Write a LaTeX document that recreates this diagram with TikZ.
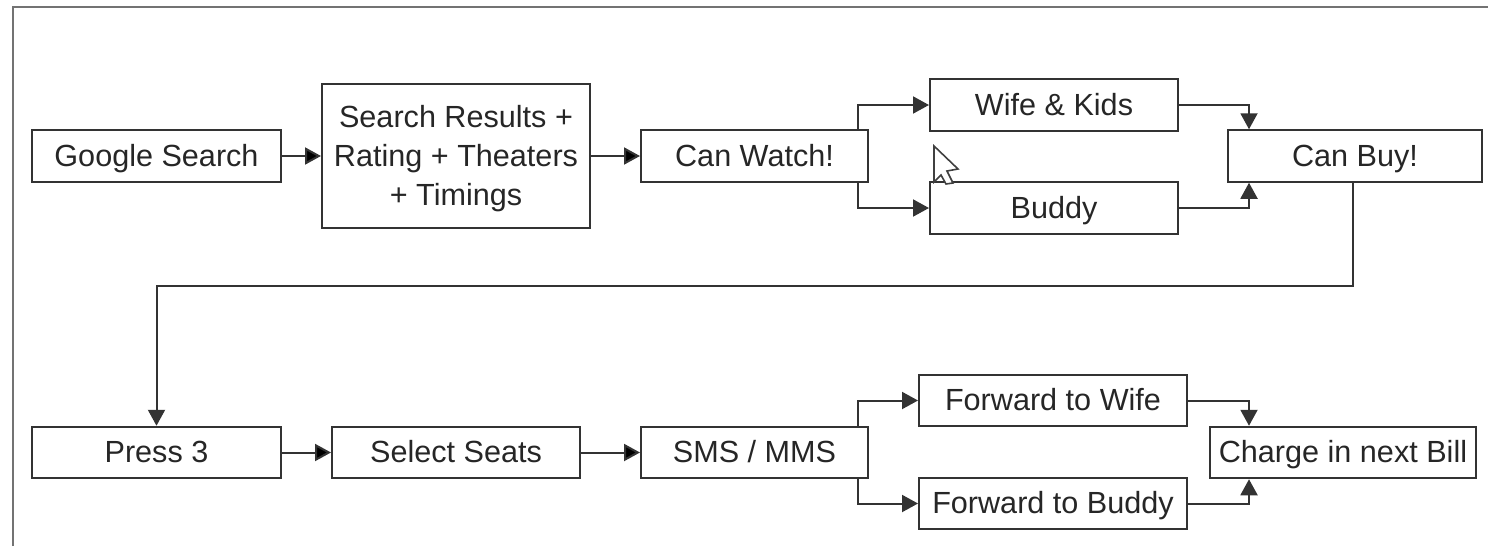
\documentclass[tikz,border=0pt]{standalone}
\usepackage{fontspec}
\setmainfont{Liberation Sans}
\usetikzlibrary{arrows.meta}

\begin{document}
\begin{tikzpicture}[>={Triangle[length=8pt,width=8.5pt]}, line width=1pt]
    \tikzstyle{box}=[draw=black!80, rectangle, inner sep=0pt, align=center,
        text=black!85, font=\fontsize{15.3}{19.5}\selectfont, minimum height=25.75pt,
        text height=13pt, text depth=3pt]
    \tikzstyle{link}=[draw=black!80, ->]

    \useasboundingbox (0,0) rectangle (744pt,-273pt);

    \coordinate (framebottom) at (6.5pt,-273pt);
    \coordinate (framecorner) at (6.5pt,-3.5pt);
    \coordinate (frameright) at (744pt,-3.5pt);
    \draw[black!55, line width=1.2pt] (framebottom) -- (framecorner) -- (frameright);

    \node[box, minimum width=124.5pt] (google) at (78.25pt,-78pt) {Google Search};
    \node[box, minimum width=134pt, minimum height=72pt, text height=, text depth=] (search)
        [right of=google, node distance=149.75pt] {\rule{0pt}{14pt}Search Results +\\Rating + Theaters\\+ Timings};
    \node[box, minimum width=113.5pt] (watch) [right of=search, node distance=149.25pt] {Can Watch!};
    \node[box, minimum width=124pt] (wife) [right of=watch, node distance=149.75pt, yshift=25.5pt] {Wife \& Kids};
    \node[box, minimum width=124pt] (buddy) [right of=watch, node distance=149.75pt, yshift=-26pt] {Buddy};
    \node[box, minimum width=127pt] (buy) [right of=watch, node distance=300.25pt] {Can Buy!};

    \node[box, minimum width=124.5pt] (press) [below of=google, node distance=148.25pt] {Press 3};
    \node[box, minimum width=124pt] (seats) [right of=press, node distance=149.75pt] {Select Seats};
    \node[box, minimum width=113.5pt] (sms) [right of=seats, node distance=149.25pt] {SMS / MMS};
    \node[box, minimum width=134pt] (fwife) [right of=sms, node distance=149.25pt, yshift=26pt] {Forward to Wife};
    \node[box, minimum width=134pt] (fbuddy) [right of=sms, node distance=149.25pt, yshift=-25.5pt] {Forward to Buddy};
    \node[box, minimum width=133pt] (charge) [right of=sms, node distance=294.25pt] {Charge in next Bill};

    \path[link] (google) edge (search)
          (search) edge (watch)
          (press) edge (seats)
          (seats) edge (sms);

    \draw[link] ([xshift=-5.5pt]watch.north east) |- (wife);
    \draw[link] ([xshift=-5.5pt]watch.south east) |- (buddy);
    \draw[link] (wife) -| ([xshift=11pt]buy.north west);
    \draw[link] (buddy) -| ([xshift=11pt]buy.south west);
    \draw[link] ([xshift=-1pt]buy.south) -- ++(0,-51.5pt) -| (press.north);
    \draw[link] ([xshift=-5.5pt]sms.north east) |- (fwife);
    \draw[link] ([xshift=-5.5pt]sms.south east) |- (fbuddy);
    \draw[link] (fwife) -| ([xshift=20pt]charge.north west);
    \draw[link] (fbuddy) -| ([xshift=20pt]charge.south west);

    % pointer left in the screenshot
    \filldraw[fill=white, draw=black!75, line width=0.8pt] (467pt,-73pt) -- (479pt,-84.5pt) -- (473.5pt,-85.5pt)
        -- (476.5pt,-91.5pt) -- (473pt,-92pt) -- (470.5pt,-87.5pt) -- (467pt,-91pt) -- cycle;
\end{tikzpicture}
\end{document}
